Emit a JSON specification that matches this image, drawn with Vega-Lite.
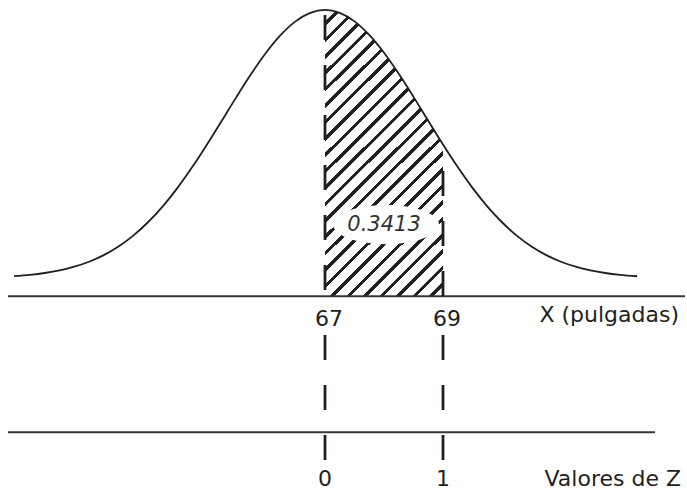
{
  "$schema": "https://vega.github.io/schema/vega-lite/v6.json",
  "width": 687,
  "height": 491,
  "autosize": {"type": "fit", "contains": "padding"},
  "padding": 0,
  "background": "#ffffff",
  "config": {
    "view": {"stroke": null},
    "text": {"font": "DejaVu Sans", "fontSize": 22, "color": "#231f20", "baseline": "alphabetic"}
  },
  "datasets": {
    "curva": [
      {"pulgadas": 61.73, "densidad": 0.00159},
      {"pulgadas": 62.0, "densidad": 0.00258},
      {"pulgadas": 62.25, "densidad": 0.00394},
      {"pulgadas": 62.5, "densidad": 0.00589},
      {"pulgadas": 62.75, "densidad": 0.00863},
      {"pulgadas": 63.0, "densidad": 0.01235},
      {"pulgadas": 63.25, "densidad": 0.0173},
      {"pulgadas": 63.5, "densidad": 0.02372},
      {"pulgadas": 63.75, "densidad": 0.03183},
      {"pulgadas": 64.0, "densidad": 0.04177},
      {"pulgadas": 64.25, "densidad": 0.05363},
      {"pulgadas": 64.5, "densidad": 0.0674},
      {"pulgadas": 64.75, "densidad": 0.08287},
      {"pulgadas": 65.0, "densidad": 0.09971},
      {"pulgadas": 65.25, "densidad": 0.11737},
      {"pulgadas": 65.5, "densidad": 0.1352},
      {"pulgadas": 65.75, "densidad": 0.15238},
      {"pulgadas": 66.0, "densidad": 0.16805},
      {"pulgadas": 66.25, "densidad": 0.18135},
      {"pulgadas": 66.5, "densidad": 0.19148},
      {"pulgadas": 66.75, "densidad": 0.19784},
      {"pulgadas": 67.0, "densidad": 0.2},
      {"pulgadas": 67.25, "densidad": 0.19784},
      {"pulgadas": 67.5, "densidad": 0.19148},
      {"pulgadas": 67.75, "densidad": 0.18135},
      {"pulgadas": 68.0, "densidad": 0.16805},
      {"pulgadas": 68.25, "densidad": 0.15238},
      {"pulgadas": 68.5, "densidad": 0.1352},
      {"pulgadas": 68.75, "densidad": 0.11737},
      {"pulgadas": 69.0, "densidad": 0.09971},
      {"pulgadas": 69.25, "densidad": 0.08287},
      {"pulgadas": 69.5, "densidad": 0.0674},
      {"pulgadas": 69.75, "densidad": 0.05363},
      {"pulgadas": 70.0, "densidad": 0.04177},
      {"pulgadas": 70.25, "densidad": 0.03183},
      {"pulgadas": 70.5, "densidad": 0.02372},
      {"pulgadas": 70.75, "densidad": 0.0173},
      {"pulgadas": 71.0, "densidad": 0.01235},
      {"pulgadas": 71.25, "densidad": 0.00863},
      {"pulgadas": 71.5, "densidad": 0.00589},
      {"pulgadas": 71.75, "densidad": 0.00394},
      {"pulgadas": 72.0, "densidad": 0.00258},
      {"pulgadas": 72.29, "densidad": 0.00153}
    ],
    "valores": [
      {"pulgadas": 67, "z": 0},
      {"pulgadas": 69, "z": 1}
    ],
    "area": [
      {"pulgadas": 68, "probabilidad": 0.3413}
    ],
    "ejes": [
      {"titulo": "X (pulgadas)"},
      {"titulo": "Valores de Z"}
    ]
  },
  "layer": [
    {
      "data": {"name": "curva"},
      "transform": [{"filter": "datum.pulgadas >= 67 && datum.pulgadas <= 69"}],
      "mark": {
        "type": "area",
        "interpolate": "monotone",
        "fillOpacity": 1,
        "fill": {
          "gradient": "linear",
          "x1": 0, "y1": 0, "x2": 0.4946, "y2": 1.2071,
          "stops": [
            {"offset": 0, "color": "#ffffff"},
            {"offset": 0.02931, "color": "#ffffff"}, {"offset": 0.02931, "color": "#231f20"}, {"offset": 0.04064, "color": "#231f20"}, {"offset": 0.04064, "color": "#ffffff"},
            {"offset": 0.06995, "color": "#ffffff"}, {"offset": 0.06995, "color": "#231f20"}, {"offset": 0.08128, "color": "#231f20"}, {"offset": 0.08128, "color": "#ffffff"},
            {"offset": 0.11059, "color": "#ffffff"}, {"offset": 0.11059, "color": "#231f20"}, {"offset": 0.12192, "color": "#231f20"}, {"offset": 0.12192, "color": "#ffffff"},
            {"offset": 0.15123, "color": "#ffffff"}, {"offset": 0.15123, "color": "#231f20"}, {"offset": 0.16256, "color": "#231f20"}, {"offset": 0.16256, "color": "#ffffff"},
            {"offset": 0.19187, "color": "#ffffff"}, {"offset": 0.19187, "color": "#231f20"}, {"offset": 0.2032, "color": "#231f20"}, {"offset": 0.2032, "color": "#ffffff"},
            {"offset": 0.23251, "color": "#ffffff"}, {"offset": 0.23251, "color": "#231f20"}, {"offset": 0.24384, "color": "#231f20"}, {"offset": 0.24384, "color": "#ffffff"},
            {"offset": 0.27315, "color": "#ffffff"}, {"offset": 0.27315, "color": "#231f20"}, {"offset": 0.28448, "color": "#231f20"}, {"offset": 0.28448, "color": "#ffffff"},
            {"offset": 0.31379, "color": "#ffffff"}, {"offset": 0.31379, "color": "#231f20"}, {"offset": 0.32512, "color": "#231f20"}, {"offset": 0.32512, "color": "#ffffff"},
            {"offset": 0.35443, "color": "#ffffff"}, {"offset": 0.35443, "color": "#231f20"}, {"offset": 0.36576, "color": "#231f20"}, {"offset": 0.36576, "color": "#ffffff"},
            {"offset": 0.39507, "color": "#ffffff"}, {"offset": 0.39507, "color": "#231f20"}, {"offset": 0.4064, "color": "#231f20"}, {"offset": 0.4064, "color": "#ffffff"},
            {"offset": 0.43571, "color": "#ffffff"}, {"offset": 0.43571, "color": "#231f20"}, {"offset": 0.44704, "color": "#231f20"}, {"offset": 0.44704, "color": "#ffffff"},
            {"offset": 0.47635, "color": "#ffffff"}, {"offset": 0.47635, "color": "#231f20"}, {"offset": 0.48768, "color": "#231f20"}, {"offset": 0.48768, "color": "#ffffff"},
            {"offset": 0.517, "color": "#ffffff"}, {"offset": 0.517, "color": "#231f20"}, {"offset": 0.52833, "color": "#231f20"}, {"offset": 0.52833, "color": "#ffffff"},
            {"offset": 0.55764, "color": "#ffffff"}, {"offset": 0.55764, "color": "#231f20"}, {"offset": 0.56897, "color": "#231f20"}, {"offset": 0.56897, "color": "#ffffff"},
            {"offset": 0.59828, "color": "#ffffff"}, {"offset": 0.59828, "color": "#231f20"}, {"offset": 0.60961, "color": "#231f20"}, {"offset": 0.60961, "color": "#ffffff"},
            {"offset": 0.63892, "color": "#ffffff"}, {"offset": 0.63892, "color": "#231f20"}, {"offset": 0.65025, "color": "#231f20"}, {"offset": 0.65025, "color": "#ffffff"},
            {"offset": 0.67956, "color": "#ffffff"}, {"offset": 0.67956, "color": "#231f20"}, {"offset": 0.69089, "color": "#231f20"}, {"offset": 0.69089, "color": "#ffffff"},
            {"offset": 0.7202, "color": "#ffffff"}, {"offset": 0.7202, "color": "#231f20"}, {"offset": 0.73153, "color": "#231f20"}, {"offset": 0.73153, "color": "#ffffff"},
            {"offset": 0.76084, "color": "#ffffff"}, {"offset": 0.76084, "color": "#231f20"}, {"offset": 0.77217, "color": "#231f20"}, {"offset": 0.77217, "color": "#ffffff"},
            {"offset": 0.80148, "color": "#ffffff"}, {"offset": 0.80148, "color": "#231f20"}, {"offset": 0.81281, "color": "#231f20"}, {"offset": 0.81281, "color": "#ffffff"},
            {"offset": 0.84212, "color": "#ffffff"}, {"offset": 0.84212, "color": "#231f20"}, {"offset": 0.85345, "color": "#231f20"}, {"offset": 0.85345, "color": "#ffffff"},
            {"offset": 0.88276, "color": "#ffffff"}, {"offset": 0.88276, "color": "#231f20"}, {"offset": 0.89409, "color": "#231f20"}, {"offset": 0.89409, "color": "#ffffff"},
            {"offset": 0.9234, "color": "#ffffff"}, {"offset": 0.9234, "color": "#231f20"}, {"offset": 0.93473, "color": "#231f20"}, {"offset": 0.93473, "color": "#ffffff"},
            {"offset": 0.96404, "color": "#ffffff"}, {"offset": 0.96404, "color": "#231f20"}, {"offset": 0.97537, "color": "#231f20"}, {"offset": 0.97537, "color": "#ffffff"},
            {"offset": 1, "color": "#ffffff"}
          ]
        }
      },
      "encoding": {
        "x": {"field": "pulgadas", "type": "quantitative", "scale": {"domain": [61.4915, 73.1356], "nice": false, "zero": false}, "axis": null},
        "y": {"field": "densidad", "type": "quantitative", "scale": {"domain": [-0.156296, 0.207407], "nice": false, "zero": false}, "axis": null},
        "y2": {"datum": -0.013333}
      }
    },
    {
      "data": {"name": "area"},
      "mark": {
        "type": "point",
        "shape": "M -1 0 A 1 0.37 0 1 0 1 0 A 1 0.37 0 1 0 -1 0 Z",
        "size": 11236,
        "filled": true,
        "fill": "#ffffff",
        "opacity": 1,
        "strokeWidth": 0
      },
      "encoding": {
        "x": {"field": "pulgadas", "type": "quantitative", "scale": {"domain": [61.4915, 73.1356], "nice": false, "zero": false}, "axis": null},
        "xOffset": {"value": 2},
        "y": {"datum": 0.04, "type": "quantitative", "scale": {"domain": [-0.156296, 0.207407], "nice": false, "zero": false}, "axis": null}
      }
    },
    {
      "data": {"name": "area"},
      "mark": {"type": "text", "fontStyle": "italic", "fontSize": 21, "color": "#333333", "align": "center"},
      "encoding": {
        "x": {"field": "pulgadas", "type": "quantitative", "scale": {"domain": [61.4915, 73.1356], "nice": false, "zero": false}, "axis": null},
        "y": {"datum": 0.035556, "type": "quantitative", "scale": {"domain": [-0.156296, 0.207407], "nice": false, "zero": false}, "axis": null},
        "text": {"field": "probabilidad", "type": "quantitative", "format": ".4f"}
      }
    },
    {
      "data": {"name": "curva"},
      "mark": {"type": "line", "interpolate": "monotone", "color": "#231f20", "strokeWidth": 1.8},
      "encoding": {
        "x": {"field": "pulgadas", "type": "quantitative", "scale": {"domain": [61.4915, 73.1356], "nice": false, "zero": false}, "axis": null},
        "y": {"field": "densidad", "type": "quantitative", "scale": {"domain": [-0.156296, 0.207407], "nice": false, "zero": false}, "axis": null}
      }
    },
    {
      "data": {"name": "ejes"},
      "transform": [{"filter": "datum.titulo == 'X (pulgadas)'"}],
      "mark": {"type": "rule", "color": "#3a3a3a", "strokeWidth": 2},
      "encoding": {
        "x": {"datum": 61.627, "type": "quantitative", "scale": {"domain": [61.4915, 73.1356], "nice": false, "zero": false}, "axis": null},
        "x2": {"datum": 73.102},
        "y": {"datum": -0.013333, "type": "quantitative", "scale": {"domain": [-0.156296, 0.207407], "nice": false, "zero": false}, "axis": null}
      }
    },
    {
      "data": {"name": "ejes"},
      "transform": [{"filter": "datum.titulo == 'Valores de Z'"}],
      "mark": {"type": "rule", "color": "#3a3a3a", "strokeWidth": 2},
      "encoding": {
        "x": {"datum": 61.627, "type": "quantitative", "scale": {"domain": [61.4915, 73.1356], "nice": false, "zero": false}, "axis": null},
        "x2": {"datum": 72.593},
        "y": {"datum": -0.114815, "type": "quantitative", "scale": {"domain": [-0.156296, 0.207407], "nice": false, "zero": false}, "axis": null}
      }
    },
    {
      "data": {"name": "valores"},
      "transform": [{"filter": "datum.z == 0"}],
      "mark": {"type": "rule", "color": "#231f20", "strokeWidth": 2.8, "strokeDash": [25, 25]},
      "encoding": {
        "x": {"field": "pulgadas", "type": "quantitative", "scale": {"domain": [61.4915, 73.1356], "nice": false, "zero": false}, "axis": null},
        "y": {"datum": 0.196296, "type": "quantitative", "scale": {"domain": [-0.156296, 0.207407], "nice": false, "zero": false}, "axis": null},
        "y2": {"datum": -0.013333}
      }
    },
    {
      "data": {"name": "valores"},
      "transform": [{"filter": "datum.z == 1"}],
      "mark": {"type": "rule", "color": "#231f20", "strokeWidth": 2.8, "strokeDash": [25, 25]},
      "encoding": {
        "x": {"field": "pulgadas", "type": "quantitative", "scale": {"domain": [61.4915, 73.1356], "nice": false, "zero": false}, "axis": null},
        "y": {"datum": 0.08, "type": "quantitative", "scale": {"domain": [-0.156296, 0.207407], "nice": false, "zero": false}, "axis": null},
        "y2": {"datum": -0.013333}
      }
    },
    {
      "data": {"name": "valores"},
      "mark": {"type": "rule", "color": "#231f20", "strokeWidth": 2.8, "strokeDash": [25, 25]},
      "encoding": {
        "x": {"field": "pulgadas", "type": "quantitative", "scale": {"domain": [61.4915, 73.1356], "nice": false, "zero": false}, "axis": null},
        "y": {"datum": -0.042222, "type": "quantitative", "scale": {"domain": [-0.156296, 0.207407], "nice": false, "zero": false}, "axis": null},
        "y2": {"datum": -0.135556}
      }
    },
    {
      "data": {"name": "valores"},
      "mark": {"type": "text", "align": "center", "dx": 4},
      "encoding": {
        "x": {"field": "pulgadas", "type": "quantitative", "scale": {"domain": [61.4915, 73.1356], "nice": false, "zero": false}, "axis": null},
        "y": {"datum": -0.035556, "type": "quantitative", "scale": {"domain": [-0.156296, 0.207407], "nice": false, "zero": false}, "axis": null},
        "text": {"field": "pulgadas", "type": "quantitative", "format": "d"}
      }
    },
    {
      "data": {"name": "valores"},
      "mark": {"type": "text", "align": "center"},
      "encoding": {
        "x": {"field": "pulgadas", "type": "quantitative", "scale": {"domain": [61.4915, 73.1356], "nice": false, "zero": false}, "axis": null},
        "y": {"datum": -0.154815, "type": "quantitative", "scale": {"domain": [-0.156296, 0.207407], "nice": false, "zero": false}, "axis": null},
        "text": {"field": "z", "type": "quantitative", "format": "d"}
      }
    },
    {
      "data": {"name": "ejes"},
      "transform": [{"filter": "datum.titulo == 'X (pulgadas)'"}],
      "mark": {"type": "text", "align": "right"},
      "encoding": {
        "x": {"datum": 73.0, "type": "quantitative", "scale": {"domain": [61.4915, 73.1356], "nice": false, "zero": false}, "axis": null},
        "y": {"datum": -0.032593, "type": "quantitative", "scale": {"domain": [-0.156296, 0.207407], "nice": false, "zero": false}, "axis": null},
        "text": {"field": "titulo"}
      }
    },
    {
      "data": {"name": "ejes"},
      "transform": [{"filter": "datum.titulo == 'Valores de Z'"}],
      "mark": {"type": "text", "align": "right"},
      "encoding": {
        "x": {"datum": 73.034, "type": "quantitative", "scale": {"domain": [61.4915, 73.1356], "nice": false, "zero": false}, "axis": null},
        "y": {"datum": -0.154815, "type": "quantitative", "scale": {"domain": [-0.156296, 0.207407], "nice": false, "zero": false}, "axis": null},
        "text": {"field": "titulo"}
      }
    }
  ]
}
